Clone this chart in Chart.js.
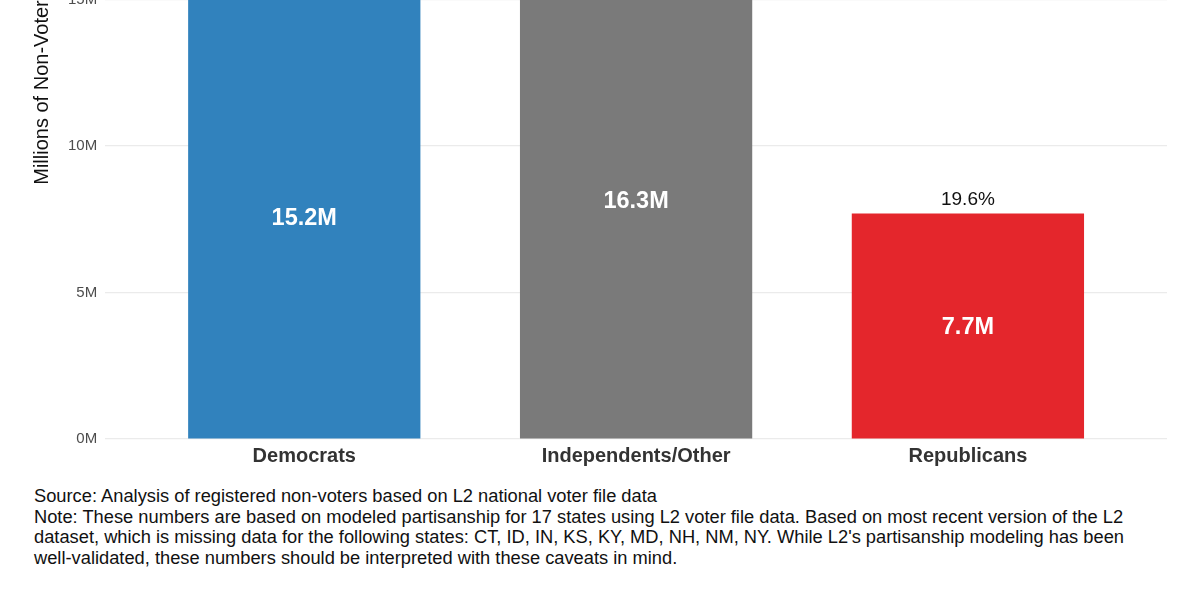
<!DOCTYPE html>
<html>
<head>
<meta charset="utf-8">
<script src="https://cdn.jsdelivr.net/npm/chart.js@4"></script>
<style>
    html, body { margin: 0; padding: 0; background: #fff; }
    body { width: 1200px; height: 600px; overflow: hidden; position: relative; font-family: "Liberation Sans", Arial, sans-serif; }
    .chart-wrap { position: absolute; left: 0; top: -284px; width: 1200px; height: 767px; }
    .caption { position: absolute; left: 34px; top: 486px; font-size: 18.3px; line-height: 20.5px; color: #111; white-space: nowrap; }
</style>
</head>
<body>
<div class="chart-wrap"><canvas id="nonVoterChart"></canvas></div>
<div class="caption">
    Source: Analysis of registered non-voters based on L2 national voter file data<br>
    Note: These numbers are based on modeled partisanship for 17 states using L2 voter file data. Based on most recent version of the L2<br>
    dataset, which is missing data for the following states: CT, ID, IN, KS, KY, MD, NH, NM, NY. While L2's partisanship modeling has been<br>
    well-validated, these numbers should be interpreted with these caveats in mind.
</div>
<script>
const categories = ['Democrats', 'Independents/Other', 'Republicans'];
const nonVoters = [15.2, 16.3, 7.7];          // millions
const shares = [38.8, 41.6, 19.6];            // percent of non-voters
const barColors = ['#3182bd', '#7a7a7a', '#e4262c'];
const yTicks = [0, 5, 10, 15, 20];

// Labels: value inside the bar, share above it
const barLabels = {
    id: 'barLabels',
    afterDatasetsDraw(chart) {
        const ctx = chart.ctx;
        const meta = chart.getDatasetMeta(0);
        ctx.save();
        ctx.textAlign = 'center';
        meta.data.forEach((bar, i) => {
            ctx.fillStyle = '#ffffff';
            ctx.font = 'bold 23.5px "Liberation Sans", Arial, sans-serif';
            ctx.textBaseline = 'middle';
            ctx.fillText(nonVoters[i].toFixed(1) + 'M', bar.x, (bar.y + bar.base) / 2 + 2);

            ctx.fillStyle = '#111';
            ctx.font = '19px "Liberation Sans", Arial, sans-serif';
            ctx.textBaseline = 'alphabetic';
            ctx.fillText(shares[i].toFixed(1) + '%', bar.x, bar.y - 8);
        });
        ctx.restore();
    }
};

const canvas = document.getElementById('nonVoterChart');
const chart = new Chart(canvas.getContext('2d'), {
    type: 'bar',
    data: {
        datasets: [{
            data: categories.map((c, i) => ({ x: i, y: nonVoters[i] })),
            backgroundColor: barColors,
            borderWidth: 0,
            categoryPercentage: 1.0,
            barPercentage: 0.7
        }]
    },
    options: {
        responsive: true,
        maintainAspectRatio: false,
        animation: false,
        layout: { padding: { left: 30, right: 33, top: 20, bottom: 10 } },
        plugins: { legend: { display: false }, tooltip: { enabled: false } },
        scales: {
            x: {
                type: 'linear',
                offset: false,
                min: -0.6,
                max: 2.6,
                afterBuildTicks: (axis) => { axis.ticks = categories.map((c, i) => ({ value: i })); },
                grid: { display: false, drawTicks: false },
                border: { display: false },
                ticks: {
                    padding: 5,
                    color: '#333',
                    font: { family: '"Liberation Sans", Arial, sans-serif', size: 20, weight: 'bold' },
                    callback: (v) => categories[v]
                }
            },
            y: {
                min: 0,
                max: 24,
                afterBuildTicks: (axis) => { axis.ticks = yTicks.map(v => ({ value: v })); },
                grid: { color: '#ebebeb', lineWidth: 1.2, drawTicks: false },
                border: { display: false },
                ticks: {
                    padding: 8,
                    color: '#4d4d4d',
                    font: { family: '"Liberation Sans", Arial, sans-serif', size: 15 },
                    callback: (v) => v + 'M'
                },
                title: {
                    display: true,
                    text: 'Millions of Non-Voters',
                    color: '#111',
                    padding: { top: 0, bottom: 6 },
                    font: { family: '"Liberation Sans", Arial, sans-serif', size: 20 }
                }
            }
        }
    },
    plugins: [barLabels]
});
</script>
</body>
</html>
